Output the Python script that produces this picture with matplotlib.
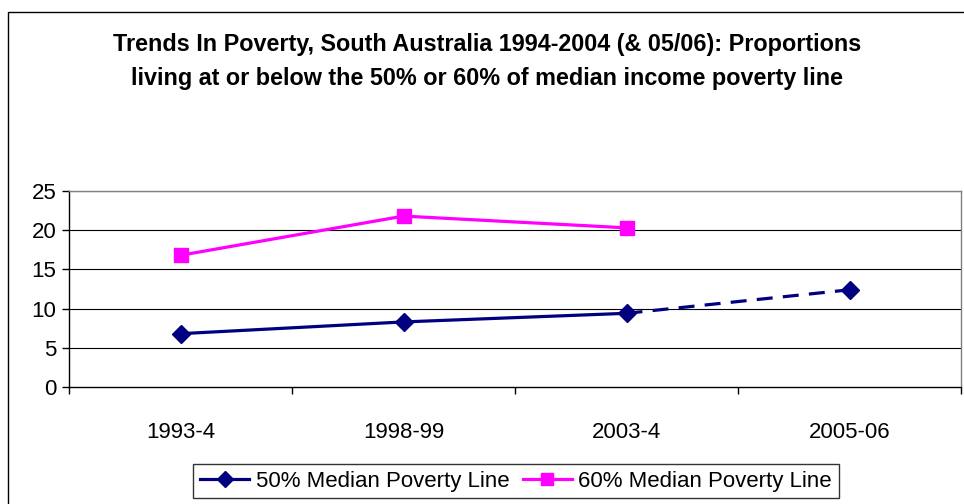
import matplotlib
matplotlib.use("Agg")
import matplotlib.pyplot as plt
from matplotlib.patches import Rectangle
from matplotlib.lines import Line2D

plt.rcParams['font.family'] = ['Liberation Sans', 'DejaVu Sans']

categories = ["1993-4", "1998-99", "2003-4", "2005-06"]
line50 = [6.8, 8.3, 9.4]
line50_proj = [9.4, 12.4]
line60 = [16.8, 21.8, 20.3]
yticks = [0, 5, 10, 15, 20, 25]

navy = "#000080"
magenta = "#FF00FF"

fig = plt.figure(figsize=(9.64, 5.04), dpi=100)
fig.patches.append(Rectangle((8/964, -0.1), 1.2, 1 - 12/504 + 0.1, transform=fig.transFigure,
                             fill=False, edgecolor="black", linewidth=1.0))

ax = fig.add_axes([69/964, 1 - 387/504, (961 - 69)/964, (387 - 191)/504])
x = list(range(len(categories)))

ax.plot(x[:3], line50, color=navy, lw=2.3, marker="D", ms=9.5, mec=navy, mfc=navy, zorder=3)
ax.plot(x[2:4], line50_proj, color=navy, lw=2.3, ls=(0, (5, 3.2)), marker="D", ms=9.5,
        mec=navy, mfc=navy, markevery=[1], zorder=3)
ax.plot(x[:3], line60, color=magenta, lw=2.3, marker="s", ms=10.5, mec=magenta, mfc=magenta, zorder=3)

ax.set_xlim(-0.5, len(categories) - 0.5)
ax.set_ylim(0, 25)
ax.set_yticks(yticks)
ax.set_yticklabels([str(v) for v in yticks], fontsize=16)
ax.set_xticks(x)
ax.set_xticklabels(categories, fontsize=16)
ax.set_xticks([i + 0.5 for i in range(len(categories) - 1)] + [-0.5, len(categories) - 0.5], minor=True)
ax.tick_params(axis='x', which='major', length=0, pad=25)
ax.tick_params(axis='x', which='minor', length=5, direction='out', width=1)
ax.tick_params(axis='y', length=5, direction='out', width=1, pad=4)
for v in yticks[1:]:
    ax.axhline(v, color="#000000", lw=0.8, zorder=1)
ax.spines['left'].set_color('black')
ax.spines['bottom'].set_color('black')
ax.spines['top'].set_color('#808080')
ax.spines['right'].set_color('#808080')
for s in ax.spines.values():
    s.set_linewidth(1.0)

fig.text(487/964, 1 - 45/504, "Trends In Poverty, South Australia 1994-2004 (& 05/06): Proportions",
         ha="center", va="center", fontsize=16.8, fontweight="bold")
fig.text(487/964, 1 - 78/504, "living at or below the 50% or 60% of median income poverty line",
         ha="center", va="center", fontsize=16.8, fontweight="bold")

handles = [Line2D([], [], color=navy, lw=2.3, marker="D", ms=8),
           Line2D([], [], color=magenta, lw=2.3, marker="s", ms=8)]
leg = fig.legend(handles, ["50% Median Poverty Line", "60% Median Poverty Line"],
                 loc="center", bbox_to_anchor=(516/964, 1 - 481/504), ncol=2, fontsize=16,
                 frameon=True, fancybox=False, edgecolor="black", handlelength=2.2,
                 handletextpad=0.3, columnspacing=0.6, borderpad=0.3)
leg.get_frame().set_linewidth(1.0)

fig.savefig("out.png", dpi=100)
